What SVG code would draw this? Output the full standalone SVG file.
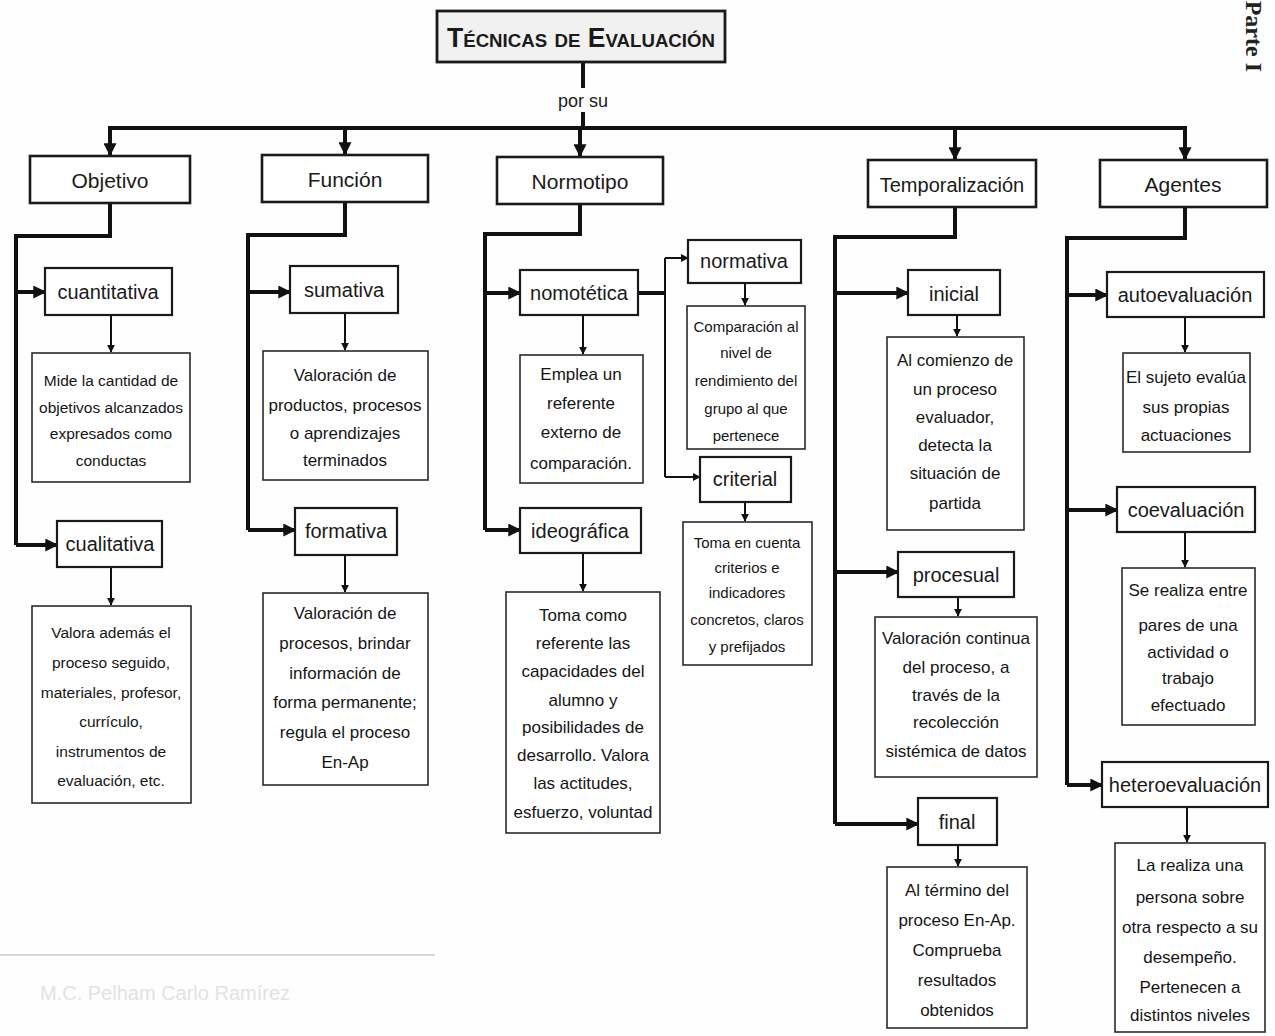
<svg xmlns="http://www.w3.org/2000/svg" width="1275" height="1036" viewBox="0 0 1275 1036">
<style>
.bg{fill:#fefefe}
.box{fill:#fff;stroke:#1a1a1a;stroke-width:2.2}
.cat{fill:#fff;stroke:#1a1a1a;stroke-width:2.6}
.desc{fill:#fff;stroke:#2a2a2a;stroke-width:1.6}
.lbl{font-family:"Liberation Sans",Arial,sans-serif;font-size:21px;fill:#1a1a1a;text-anchor:middle}
.sub{font-family:"Liberation Sans",Arial,sans-serif;font-size:20px;fill:#1a1a1a;text-anchor:middle}
.txt{font-family:"Liberation Sans",Arial,sans-serif;font-size:17px;fill:#151515;text-anchor:middle}
.sm{font-family:"Liberation Sans",Arial,sans-serif;font-size:15px;fill:#151515;text-anchor:middle}
.thick{fill:none;stroke:#111;stroke-width:4}
.thin{fill:none;stroke:#111;stroke-width:2}
</style>
<defs>
<marker id="ah" viewBox="0 0 10 10" refX="9" refY="5" markerWidth="13" markerHeight="13" markerUnits="userSpaceOnUse" orient="auto"><path d="M0,0 L10,5 L0,10 z" fill="#111"/></marker>
<marker id="as" viewBox="0 0 10 10" refX="9" refY="5" markerWidth="8" markerHeight="8" markerUnits="userSpaceOnUse" orient="auto"><path d="M0,0 L10,5 L0,10 z" fill="#111"/></marker>
</defs>
<rect class="bg" x="0" y="0" width="1275" height="1036"/>

<g id="connectors">
<path class="thick" d="M583,62 V88"/>
<path class="thick" d="M583,112 V128"/>
<path class="thick" d="M108,128 H1187"/>
<path class="thick" d="M110,128 V155" marker-end="url(#ah)"/>
<path class="thick" d="M345,128 V154" marker-end="url(#ah)"/>
<path class="thick" d="M580,128 V156" marker-end="url(#ah)"/>
<path class="thick" d="M955,128 V159" marker-end="url(#ah)"/>
<path class="thick" d="M1185,128 V159" marker-end="url(#ah)"/>

<path class="thick" d="M110,203 V236 H16 V545"/>
<path class="thick" d="M16,292 H45" marker-end="url(#ah)"/>
<path class="thick" d="M16,545 H57" marker-end="url(#ah)"/>
<path class="thin" d="M111,315 V352" marker-end="url(#as)"/>
<path class="thin" d="M111,567 V605" marker-end="url(#as)"/>

<path class="thick" d="M345,202 V235 H248 V530"/>
<path class="thick" d="M248,292 H290" marker-end="url(#ah)"/>
<path class="thick" d="M248,530 H295" marker-end="url(#ah)"/>
<path class="thin" d="M345,313 V350" marker-end="url(#as)"/>
<path class="thin" d="M345,555 V592" marker-end="url(#as)"/>

<path class="thick" d="M580,204 V234 H485 V530"/>
<path class="thick" d="M485,293 H520" marker-end="url(#ah)"/>
<path class="thick" d="M485,530 H520" marker-end="url(#ah)"/>
<path class="thin" d="M583,315 V354" marker-end="url(#as)"/>
<path class="thin" d="M583,553 V591" marker-end="url(#as)"/>
<path class="thick" d="M638,293 H665"/>
<path class="thin" d="M665,258 V477"/>
<path class="thin" d="M665,258 H688" marker-end="url(#as)"/>
<path class="thin" d="M665,477 H700" marker-end="url(#as)"/>
<path class="thin" d="M745,283 V305" marker-end="url(#as)"/>
<path class="thin" d="M745,502 V521" marker-end="url(#as)"/>

<path class="thick" d="M955,207 V237 H835 V824"/>
<path class="thick" d="M835,293 H908" marker-end="url(#ah)"/>
<path class="thick" d="M835,572 H898" marker-end="url(#ah)"/>
<path class="thick" d="M835,824 H918" marker-end="url(#ah)"/>
<path class="thin" d="M957,315 V336" marker-end="url(#as)"/>
<path class="thin" d="M958,597 V616" marker-end="url(#as)"/>
<path class="thin" d="M958,845 V866" marker-end="url(#as)"/>

<path class="thick" d="M1185,207 V238 H1067 V785"/>
<path class="thick" d="M1067,295 H1107" marker-end="url(#ah)"/>
<path class="thick" d="M1067,510 H1117" marker-end="url(#ah)"/>
<path class="thick" d="M1067,785 H1102" marker-end="url(#ah)"/>
<path class="thin" d="M1185,317 V352" marker-end="url(#as)"/>
<path class="thin" d="M1185,532 V567" marker-end="url(#as)"/>
<path class="thin" d="M1187,807 V842" marker-end="url(#as)"/>
</g>

<g id="title">
<rect x="437" y="11" width="288" height="51" fill="#f1f1f1" stroke="#1a1a1a" stroke-width="2.8"/>
<text x="581" y="47" font-family="Liberation Sans,Arial,sans-serif" font-size="27" font-weight="bold" font-variant="small-caps" text-anchor="middle" fill="#1a1a1a" textLength="268" lengthAdjust="spacingAndGlyphs">Técnicas de Evaluación</text>
</g>
<text id="porsu" x="583" y="107" font-family="Liberation Sans,Arial,sans-serif" font-size="18" text-anchor="middle" fill="#1a1a1a">por su</text>

<g id="objetivo"><rect class="cat" x="30" y="156" width="160" height="47"/><text class="lbl" x="110" y="188">Objetivo</text></g>
<g id="funcion"><rect class="cat" x="262" y="155" width="166" height="47"/><text class="lbl" x="345" y="187">Función</text></g>
<g id="normotipo"><rect class="cat" x="497" y="157" width="166" height="47"/><text class="lbl" x="580" y="189">Normotipo</text></g>
<g id="temporalizacion"><rect class="cat" x="868" y="160" width="168" height="47"/><text class="lbl" x="952" y="192" style="font-size:20px">Temporalización</text></g>
<g id="agentes"><rect class="cat" x="1100" y="160" width="167" height="47"/><text class="lbl" x="1183" y="192">Agentes</text></g>

<g id="cuantitativa"><rect class="box" x="45" y="268" width="127" height="47"/><text class="sub" x="108" y="299">cuantitativa</text></g>
<g id="cuantitativa-desc"><rect class="desc" x="32" y="353" width="158" height="129"/>
<text class="txt" x="111" style="font-size:15.5px"><tspan x="111" y="386">Mide la cantidad de</tspan><tspan x="111" y="413">objetivos alcanzados</tspan><tspan x="111" y="439">expresados como</tspan><tspan x="111" y="466">conductas</tspan></text></g>
<g id="cualitativa"><rect class="box" x="57" y="521" width="105" height="46"/><text class="sub" x="110" y="551">cualitativa</text></g>
<g id="cualitativa-desc"><rect class="desc" x="32" y="606" width="159" height="197"/>
<text class="txt" x="111" style="font-size:15.5px"><tspan x="111" y="638">Valora además el</tspan><tspan x="111" y="668">proceso seguido,</tspan><tspan x="111" y="698">materiales, profesor,</tspan><tspan x="111" y="727">currículo,</tspan><tspan x="111" y="757">instrumentos de</tspan><tspan x="111" y="786">evaluación, etc.</tspan></text></g>

<g id="sumativa"><rect class="box" x="290" y="266" width="108" height="47"/><text class="sub" x="344" y="297">sumativa</text></g>
<g id="sumativa-desc"><rect class="desc" x="263" y="351" width="165" height="129"/>
<text class="txt" x="345"><tspan x="345" y="381">Valoración de</tspan><tspan x="345" y="411">productos, procesos</tspan><tspan x="345" y="439">o aprendizajes</tspan><tspan x="345" y="466">terminados</tspan></text></g>
<g id="formativa"><rect class="box" x="295" y="508" width="102" height="47"/><text class="sub" x="346" y="538">formativa</text></g>
<g id="formativa-desc"><rect class="desc" x="263" y="593" width="165" height="192"/>
<text class="txt" x="345"><tspan x="345" y="619">Valoración de</tspan><tspan x="345" y="649">procesos, brindar</tspan><tspan x="345" y="679">información de</tspan><tspan x="345" y="708">forma permanente;</tspan><tspan x="345" y="738">regula el proceso</tspan><tspan x="345" y="768">En-Ap</tspan></text></g>

<g id="nomotetica"><rect class="box" x="520" y="270" width="118" height="45"/><text class="sub" x="579" y="300">nomotética</text></g>
<g id="nomotetica-desc"><rect class="desc" x="520" y="355" width="123" height="128"/>
<text class="txt" x="581"><tspan x="581" y="380">Emplea un</tspan><tspan x="581" y="409">referente</tspan><tspan x="581" y="438">externo de</tspan><tspan x="581" y="469">comparación.</tspan></text></g>
<g id="normativa"><rect class="box" x="688" y="240" width="113" height="43"/><text class="sub" x="744" y="268">normativa</text></g>
<g id="normativa-desc"><rect class="desc" x="687" y="306" width="118" height="143"/>
<text class="sm" x="746"><tspan x="746" y="332">Comparación al</tspan><tspan x="746" y="358">nivel de</tspan><tspan x="746" y="386">rendimiento del</tspan><tspan x="746" y="414">grupo al que</tspan><tspan x="746" y="441">pertenece</tspan></text></g>
<g id="criterial"><rect class="box" x="700" y="457" width="91" height="45"/><text class="sub" x="745" y="486">criterial</text></g>
<g id="criterial-desc"><rect class="desc" x="683" y="522" width="129" height="143"/>
<text class="sm" x="747"><tspan x="747" y="548">Toma en cuenta</tspan><tspan x="747" y="573">criterios e</tspan><tspan x="747" y="598">indicadores</tspan><tspan x="747" y="625">concretos, claros</tspan><tspan x="747" y="652">y prefijados</tspan></text></g>
<g id="ideografica"><rect class="box" x="520" y="508" width="121" height="45"/><text class="sub" x="580" y="538">ideográfica</text></g>
<g id="ideografica-desc"><rect class="desc" x="506" y="592" width="154" height="241"/>
<text class="txt" x="583"><tspan x="583" y="621">Toma como</tspan><tspan x="583" y="649">referente las</tspan><tspan x="583" y="677">capacidades del</tspan><tspan x="583" y="706">alumno y</tspan><tspan x="583" y="733">posibilidades de</tspan><tspan x="583" y="761">desarrollo. Valora</tspan><tspan x="583" y="789">las actitudes,</tspan><tspan x="583" y="818">esfuerzo, voluntad</tspan></text></g>

<g id="inicial"><rect class="box" x="908" y="270" width="92" height="45"/><text class="sub" x="954" y="301">inicial</text></g>
<g id="inicial-desc"><rect class="desc" x="887" y="337" width="137" height="193"/>
<text class="txt" x="955"><tspan x="955" y="366">Al comienzo de</tspan><tspan x="955" y="395">un proceso</tspan><tspan x="955" y="423">evaluador,</tspan><tspan x="955" y="451">detecta la</tspan><tspan x="955" y="479">situación de</tspan><tspan x="955" y="509">partida</tspan></text></g>
<g id="procesual"><rect class="box" x="898" y="552" width="116" height="45"/><text class="sub" x="956" y="582">procesual</text></g>
<g id="procesual-desc"><rect class="desc" x="875" y="617" width="162" height="160"/>
<text class="txt" x="956"><tspan x="956" y="644">Valoración continua</tspan><tspan x="956" y="673">del proceso, a</tspan><tspan x="956" y="701">través de la</tspan><tspan x="956" y="728">recolección</tspan><tspan x="956" y="757">sistémica de datos</tspan></text></g>
<g id="final"><rect class="box" x="918" y="798" width="79" height="47"/><text class="sub" x="957" y="829">final</text></g>
<g id="final-desc"><rect class="desc" x="887" y="867" width="140" height="161"/>
<text class="txt" x="957"><tspan x="957" y="896">Al término del</tspan><tspan x="957" y="926">proceso En-Ap.</tspan><tspan x="957" y="956">Comprueba</tspan><tspan x="957" y="986">resultados</tspan><tspan x="957" y="1016">obtenidos</tspan></text></g>

<g id="autoevaluacion"><rect class="box" x="1107" y="272" width="157" height="45"/><text class="sub" x="1185" y="302">autoevaluación</text></g>
<g id="autoevaluacion-desc"><rect class="desc" x="1123" y="353" width="127" height="99"/>
<text class="txt" x="1186"><tspan x="1186" y="383">El sujeto evalúa</tspan><tspan x="1186" y="413">sus propias</tspan><tspan x="1186" y="441">actuaciones</tspan></text></g>
<g id="coevaluacion"><rect class="box" x="1117" y="487" width="138" height="45"/><text class="sub" x="1186" y="517">coevaluación</text></g>
<g id="coevaluacion-desc"><rect class="desc" x="1122" y="568" width="133" height="157"/>
<text class="txt" x="1188"><tspan x="1188" y="596">Se realiza entre</tspan><tspan x="1188" y="631">pares de una</tspan><tspan x="1188" y="658">actividad o</tspan><tspan x="1188" y="684">trabajo</tspan><tspan x="1188" y="711">efectuado</tspan></text></g>
<g id="heteroevaluacion"><rect class="box" x="1102" y="762" width="166" height="45"/><text class="sub" x="1185" y="792">heteroevaluación</text></g>
<g id="heteroevaluacion-desc"><rect class="desc" x="1115" y="843" width="150" height="189"/>
<text class="txt" x="1190"><tspan x="1190" y="871">La realiza una</tspan><tspan x="1190" y="903">persona sobre</tspan><tspan x="1190" y="933">otra respecto a su</tspan><tspan x="1190" y="963">desempeño.</tspan><tspan x="1190" y="993">Pertenecen a</tspan><tspan x="1190" y="1021">distintos niveles</tspan></text></g>

<text id="side-tab" transform="translate(1246,72) rotate(90)" font-family="Liberation Serif,serif" font-size="24" font-weight="bold" text-anchor="end" fill="#222">Parte I</text>
<path d="M0,955 H435" stroke="#d8d8d8" stroke-width="2"/>
<text id="footer" x="40" y="1000" font-family="Liberation Sans,Arial,sans-serif" font-size="20" fill="#e2e2e2">M.C. Pelham Carlo Ramírez</text>
</svg>
